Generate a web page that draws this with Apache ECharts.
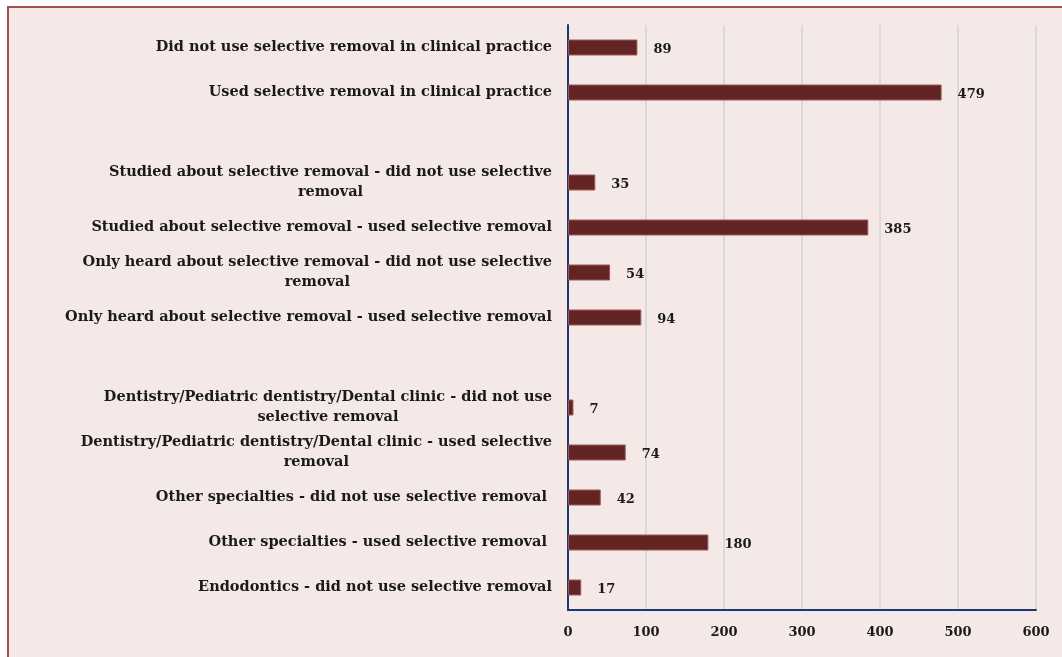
<!DOCTYPE html>
<html>
<head>
<meta charset="utf-8">
<script src="https://cdn.jsdelivr.net/npm/echarts@6/dist/echarts.min.js"></script>
<style>
  html, body { margin: 0; padding: 0; background: #ffffff; }
  #frame {
    position: absolute; left: 7px; top: 6px; width: 1100px; height: 700px;
    background: #f5e9e8; border: 2px solid #a4504e; box-sizing: border-box;
  }
  #chart { position: absolute; left: 0; top: 0; width: 1062px; height: 657px; }
</style>
</head>
<body>
<div id="frame"></div>
<div id="chart"></div>
<script>
// Categories, listed bottom to top; the blank entries separate the groups.
const categories = [
  'Endodontics - did not use selective removal',
  'Other specialties - used selective removal ',
  'Other specialties - did not use selective removal ',
  'Dentistry/Pediatric dentistry/Dental clinic - used selective\nremoval',
  'Dentistry/Pediatric dentistry/Dental clinic - did not use\nselective removal',
  ' ',
  'Only heard about selective removal - used selective removal',
  'Only heard about selective removal - did not use selective\nremoval',
  'Studied about selective removal - used selective removal',
  'Studied about selective removal - did not use selective\nremoval',
  '  ',
  'Used selective removal in clinical practice',
  'Did not use selective removal in clinical practice'
];
const counts = [17, 180, 42, 74, 7, null, 94, 54, 385, 35, null, 479, 89];
const xTicks = [0, 100, 200, 300, 400, 500, 600];

const serif = '"DejaVu Serif", "Liberation Serif", serif';

const chart = echarts.init(document.getElementById('chart'), null, { renderer: 'canvas' });
chart.setOption({
  backgroundColor: 'transparent',
  animation: false,
  grid: { left: 568, right: 26, top: 25, bottom: 47, containLabel: false },
  xAxis: {
    type: 'value',
    min: xTicks[0],
    max: xTicks[xTicks.length - 1],
    interval: xTicks[1] - xTicks[0],
    axisLine: { show: true, lineStyle: { color: '#1f3773', width: 2 } },
    axisTick: { show: false },
    splitLine: { show: true, lineStyle: { color: '#d9d9d9', width: 2 } },
    axisLabel: {
      margin: 16,
      color: '#1a1a1a',
      fontFamily: serif,
      fontWeight: 'bold',
      fontSize: 13
    }
  },
  yAxis: {
    type: 'category',
    data: categories,
    axisLine: { show: true, lineStyle: { color: '#1f3773', width: 2 } },
    axisTick: { show: false },
    axisLabel: {
      margin: 16,
      interval: 0,
      align: 'right',
      formatter: v => v.split('\n').map(l => '{c|' + l + '}').join('\n'),
      rich: {
        c: {
          align: 'center',
          color: '#1a1a1a',
          fontFamily: serif,
          fontWeight: 'bold',
          fontSize: 14.5,
          lineHeight: 20
        }
      }
    }
  },
  series: [{
    type: 'bar',
    data: counts,
    barWidth: 16,
    itemStyle: { color: '#632424', borderColor: '#9b5a58', borderWidth: 1 },
    label: {
      show: true,
      position: 'right',
      distance: 16,
      offset: [0, 2],
      color: '#1a1a1a',
      fontFamily: serif,
      fontWeight: 'bold',
      fontSize: 13,
      formatter: p => (p.value == null ? '' : p.value)
    }
  }]
});
</script>
</body>
</html>
